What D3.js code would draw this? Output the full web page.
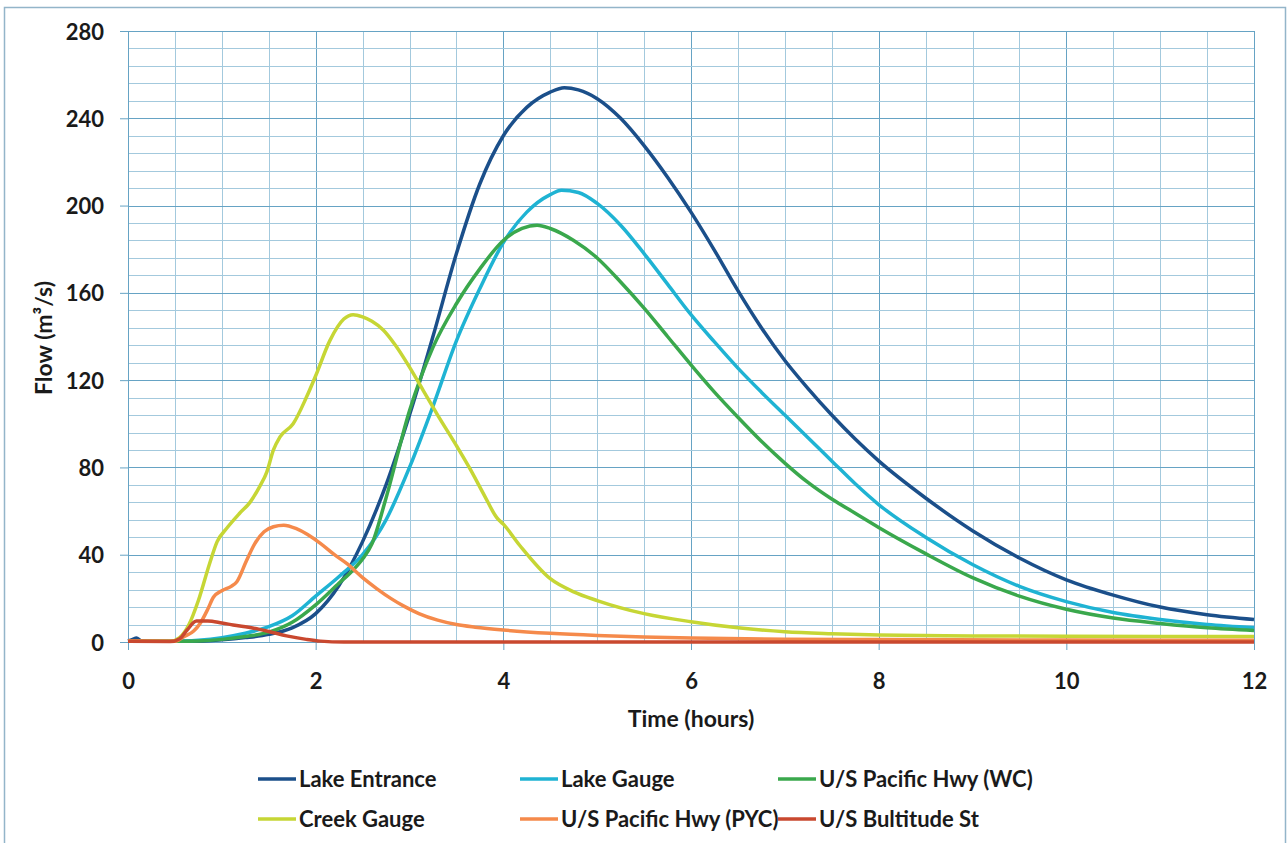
<!DOCTYPE html>
<html>
<head>
<meta charset="utf-8">
<script src="https://cdn.jsdelivr.net/npm/d3@7"></script>
<style>
  body { margin: 0; background: #fff; overflow: hidden; }
  svg { display: block; }
  text { font-family: Lato, "Open Sans", sans-serif; font-weight: bold; fill: #1a1a1a; }
</style>
</head>
<body>
<div id="chart"></div>
<script>

// hydrograph values, [hours, m3/s]
var lakeEntrance = [[0,0.5],[0.05,1.2],[0.09,1.8],[0.14,0.6],[0.3,0.3],[0.6,0.3],[0.8,0.5],[1.0,1],[1.25,2],[1.5,3.5],
  [1.75,6.5],[2.0,13],[2.25,26],[2.5,46],[2.75,72],[3.0,104],[3.25,140],[3.5,178],[3.75,210],[4.0,232],[4.25,245],
  [4.5,252],[4.65,254],[4.8,253],[5.0,249],[5.25,240],[5.5,227.5],[5.75,213],[6.0,197],[6.25,179.5],[6.5,161],
  [6.75,144],[7.0,129],[7.25,116],[7.5,104],[7.75,93],[8.0,83],[8.5,66],[9.0,51],[9.5,38.5],[10.0,28.5],
  [10.5,21.5],[11.0,16],[11.5,12.5],[12.0,10.3]];

var lakeGauge = [[0,0.5],[0.5,0.3],[0.75,0.8],[1.0,2],[1.25,4],[1.5,7],[1.75,12],[2.0,21],[2.25,30],[2.5,40],
  [2.75,56],[3.0,80],[3.25,108],[3.5,138],[3.75,162],[4.0,183],[4.25,197],[4.5,205],[4.62,207],[4.8,206],[5.0,201],
  [5.25,191],[5.5,178],[5.75,164],[6.0,150],[6.25,137.5],[6.5,125.5],[6.75,114.5],[7.0,104],[7.25,93.5],[7.5,83],
  [7.75,72.5],[8.0,63],[8.5,48],[9.0,35.5],[9.5,25.5],[10.0,18.5],[10.5,13.5],[11.0,10.3],[11.5,8],[12.0,6.5]];

var pacificWC = [[0,0.5],[0.5,0.3],[0.75,0.5],[1.0,1.2],[1.25,2.5],[1.5,4.5],[1.75,9],[2.0,17],[2.25,27],[2.4,33],
  [2.5,38],[2.6,45],[2.75,66],[3.0,106],[3.25,135],[3.5,155],[3.75,171],[4.0,184],[4.2,189.5],[4.36,191],[4.5,189.5],
  [4.75,184],[5.0,176],[5.25,165],[5.5,153],[5.75,140],[6.0,127],[6.25,114.5],[6.5,103],[6.75,92],[7.0,82],[7.25,73],
  [7.5,65.5],[7.75,59],[8.0,52.5],[8.5,40.5],[9.0,29.5],[9.5,21],[10.0,15],[10.5,11],[11.0,8.5],[11.5,6.5],[12.0,5.3]];

var creekGauge = [[0,0.5],[0.45,0.3],[0.55,2],[0.65,8],[0.75,19],[0.87,36],[0.95,46],[1.05,52],[1.19,59],[1.3,64],
  [1.4,71],[1.48,78],[1.55,88],[1.62,94],[1.76,100],[1.9,112],[2.0,122],[2.15,138],[2.3,148],[2.4,150],[2.5,149],
  [2.6,147],[2.72,143],[2.85,136],[3.0,126],[3.15,115],[3.3,104],[3.5,90],[3.65,79],[3.8,67],[3.93,57],[4.0,54],
  [4.18,44],[4.5,29],[4.75,23],[5.0,19],[5.5,13],[6.0,9.3],[6.5,6.5],[7.0,4.7],[7.5,3.8],[8.0,3.2],[9.0,2.8],
  [10.0,2.6],[12.0,2.5]];

var pacificPYC = [[0,0.5],[0.5,0.3],[0.6,2.5],[0.7,5],[0.77,8.6],[0.85,15],[0.91,20.5],[1.0,23.5],[1.1,25.5],
  [1.16,27.6],[1.26,37],[1.35,45],[1.45,50.5],[1.55,52.8],[1.66,53.5],[1.8,51.8],[2.05,45.2],[2.2,40],[2.33,36],
  [2.5,29.5],[2.65,24.5],[2.8,20],[2.95,16.2],[3.1,13],[3.3,10],[3.5,8],[3.7,6.8],[4.0,5.5],[4.5,4],[5.0,3],
  [5.5,2.3],[6.0,1.8],[7.0,1.3],[8.0,1.1],[10.0,0.9],[12.0,0.8]];

var bultitude = [[0,0.3],[0.45,0.2],[0.55,1.5],[0.63,5.5],[0.73,9.6],[0.85,9.6],[1.0,8.7],[1.12,7.8],[1.34,6.3],
  [1.51,4.7],[1.69,2.8],[1.9,1.2],[2.05,0.4],[2.3,0],[12,0]];

var seriesNames = ["Lake Entrance", "Lake Gauge", "U/S Pacific Hwy (WC)", "Creek Gauge", "U/S Pacific Hwy (PYC)", "U/S Bultitude St"];
var seriesValues = [lakeEntrance, lakeGauge, pacificWC, creekGauge, pacificPYC, bultitude];
var seriesColors = ["#1b4f8a", "#1fb3d3", "#3aa84c", "#c6d635", "#f58a4b", "#c9482f"];

var xTicks = [0, 2, 4, 6, 8, 10, 12];
var yTicks = [0, 40, 80, 120, 160, 200, 240, 280];

var width = 1287,
  height = 843,
  margin = {top: 31, right: 33, bottom: 201, left: 128},
  innerWidth = width - margin.left - margin.right,
  innerHeight = height - margin.top - margin.bottom;

var svg = d3.select("#chart").append("svg")
  .attr("width", width)
  .attr("height", height);

// outer chart frame (bottom edge runs off the picture)
svg.append("path")
  .attr("d", "M4.5," + height + "V7.5H" + (width - 1.5) + "V" + height)
  .attr("fill", "none")
  .attr("stroke", "#93b5c9")
  .attr("stroke-width", 1.5);

var g = svg.append("g")
  .attr("transform", "translate(" + margin.left + "," + margin.top + ")");

var xScale = d3.scaleLinear().domain([0, 12]).range([0, innerWidth]);
var yScale = d3.scaleLinear().domain([0, 280]).range([innerHeight, 0]);

// minor grid: every half hour / every 8 m3/s, majors a bit darker
g.append("g")
  .selectAll("line")
  .data(d3.range(0, 12.01, 0.5))
  .enter().append("line")
    .attr("x1", function(d) { return Math.round(xScale(d)) + 0.5; })
    .attr("x2", function(d) { return Math.round(xScale(d)) + 0.5; })
    .attr("y1", 0).attr("y2", innerHeight)
    .attr("stroke", function(d) { return d % 2 === 0 ? "#66a3c4" : "#a3c9dd"; })
    .attr("stroke-width", 1);

g.append("g")
  .selectAll("line")
  .data(d3.range(0, 281, 8))
  .enter().append("line")
    .attr("x1", 0).attr("x2", innerWidth)
    .attr("y1", function(d) { return Math.round(yScale(d)) + 0.5; })
    .attr("y2", function(d) { return Math.round(yScale(d)) + 0.5; })
    .attr("stroke", function(d) { return d % 40 === 0 ? "#66a3c4" : "#a3c9dd"; })
    .attr("stroke-width", 1);

var xAxis = d3.axisBottom(xScale).tickValues(xTicks).tickSize(8).tickPadding(23);
var yAxis = d3.axisLeft(yScale).tickValues(yTicks).tickSize(8).tickPadding(16);

var xAxisG = g.append("g")
  .attr("transform", "translate(0," + innerHeight + ")")
  .call(xAxis);
var yAxisG = g.append("g").call(yAxis);

[xAxisG, yAxisG].forEach(function(a) {
  a.attr("font-family", "Lato, sans-serif")
    .attr("font-size", 22)
    .attr("font-weight", "bold");
  a.select(".domain").attr("stroke", "#66a3c4").attr("fill", "none");
  a.selectAll(".tick line").attr("stroke", "#66a3c4");
  a.selectAll(".tick text").attr("fill", "#1a1a1a");
});

// plain pixel baselines instead of em offsets
xAxisG.selectAll(".tick text").attr("dy", null).attr("y", 47);
yAxisG.selectAll(".tick text").attr("dy", null).attr("y", 8);

var line = d3.line()
  .x(function(d) { return xScale(d[0]); })
  .y(function(d) { return yScale(d[1]); })
  .curve(d3.curveMonotoneX);

g.append("g")
  .selectAll("path")
  .data(seriesValues)
  .enter().append("path")
    .attr("d", line)
    .attr("fill", "none")
    .attr("stroke", function(d, i) { return seriesColors[i]; })
    .attr("stroke-width", 3.5)
    .attr("stroke-linejoin", "round");

// axis titles
svg.append("text")
  .attr("x", 691).attr("y", 727)
  .attr("text-anchor", "middle")
  .attr("font-size", 23)
  .text("Time (hours)");

svg.append("text")
  .attr("transform", "translate(52,338) rotate(-90)")
  .attr("text-anchor", "middle")
  .attr("font-size", 23)
  .text("Flow (m³/s)");

// legend, two rows of three
var legendX = [258, 520, 778];
var legendY = [779, 819];

var legend = svg.append("g")
  .selectAll("g")
  .data(seriesNames)
  .enter().append("g")
    .attr("transform", function(d, i) {
      return "translate(" + legendX[i % 3] + "," + legendY[Math.floor(i / 3)] + ")";
    });

legend.append("line")
  .attr("x1", 0).attr("x2", 38)
  .attr("stroke", function(d, i) { return seriesColors[i]; })
  .attr("stroke-width", 3.5);

legend.append("text")
  .attr("x", 41)
  .attr("y", 8)
  .attr("font-size", 22)
  .text(function(d) { return d; });

</script>
</body>
</html>
